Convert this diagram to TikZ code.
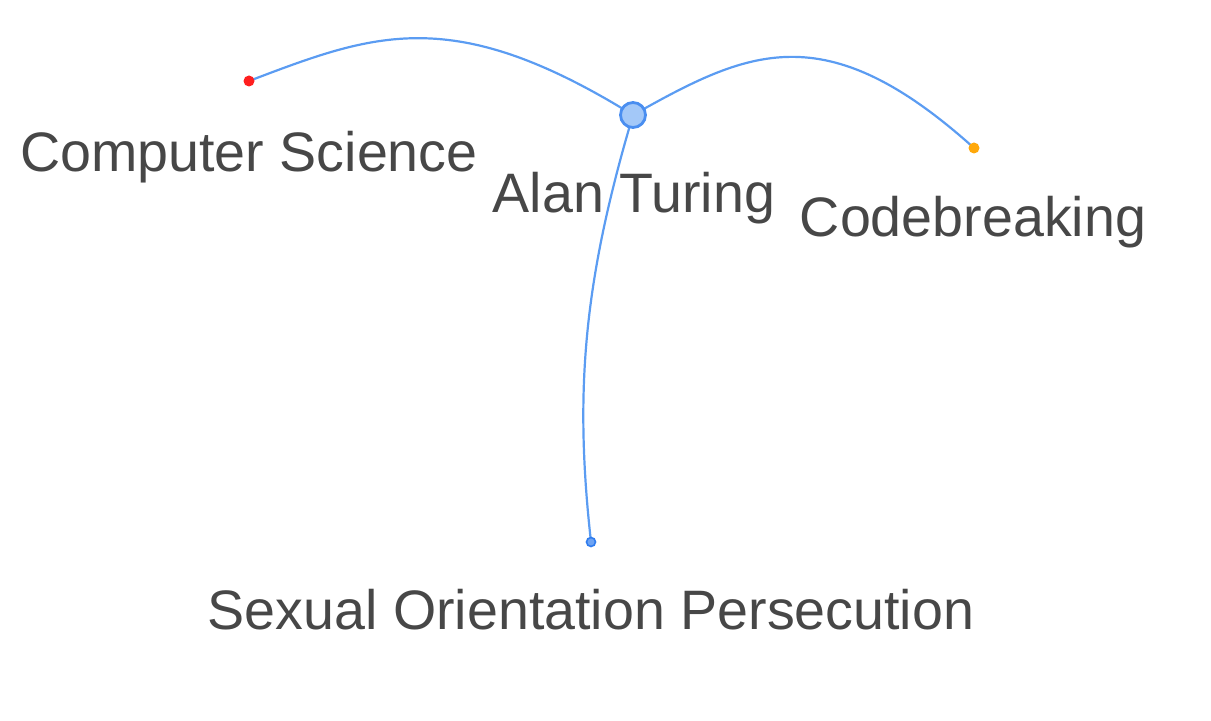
\documentclass[tikz,border=0pt]{standalone}
\usepackage{fontspec}
\setmainfont{Liberation Sans}
\usetikzlibrary{calc}

\definecolor{edgeblue}{HTML}{5B9CF2}
\definecolor{hubfill}{HTML}{A3C8F8}
\definecolor{hubdraw}{HTML}{4A8EF0}
\definecolor{leafred}{HTML}{FF1F1F}
\definecolor{leaforange}{HTML}{FFA80A}
\definecolor{leafblue}{HTML}{2F7CEE}
\definecolor{labelgray}{HTML}{474747}

\tikzset{
	link/.style={draw=edgeblue, line width=1.1pt},
	hub/.style={circle, fill=hubfill, draw=hubdraw, line width=1.4pt, minimum size=12.5pt, inner sep=0pt},
	leaf/.style={circle, fill=#1, minimum size=5.5pt, inner sep=0pt},
	tag/.style={anchor=base, inner sep=0pt, text=labelgray, font=\fontsize{27.8pt}{33pt}\selectfont},
}

\begin{document}
\begin{tikzpicture}[x=0.5pt, y=-0.5pt]
		\useasboundingbox (0,0) rectangle (1211,721);
		\coordinate (turing) at (633,115);
		\coordinate (cs) at (249,81);
		\coordinate (code) at (974,148);
		\coordinate (sop) at (591,542);
		%
		\draw[link] (cs) .. controls (374,33.5) and (452,3) .. (turing);
		\draw[link] (turing) .. controls (747,51) and (824,13) .. (code);
		\draw[link] (turing) .. controls (584,280) and (574,390) .. (sop);
		%
		\node[hub] (turingdot) at (turing) {};
		\node[leaf=leafred] (csdot) at (cs) {};
		\node[leaf=leaforange] (codedot) at (code) {};
		\node[leaf=leafblue, draw=leafblue, fill=leafblue!70!white, line width=0.8pt, minimum size=4.5pt] (sopdot) at (sop) {};
		%
		\node[tag] (cslabel) at ($(cs)+(0,91)$) {Computer Science};
		\node[tag] (turinglabel) at ($(turing)+(1,98)$) {Alan Turing};
		\node[tag] (codelabel) at ($(code)+(-1,89)$) {Codebreaking};
		\node[tag] (soplabel) at ($(sop)+(0,88)$) {Sexual Orientation Persecution};
	\end{tikzpicture}
\end{document}
